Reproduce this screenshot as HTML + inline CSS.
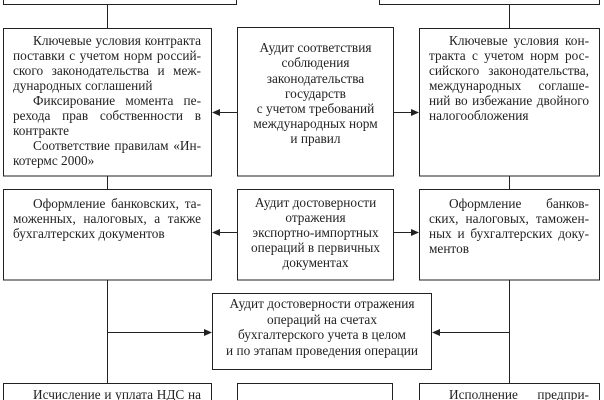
<!DOCTYPE html>
<html>
<head>
<meta charset="utf-8">
<style>
  html, body { margin: 0; padding: 0; background: #fff; }
  #c { position: relative; width: 604px; height: 400px; overflow: hidden; background: #fff; }
  svg { position: absolute; left: 0; top: 0; }
  .t { position: absolute; font-family: "Liberation Serif", "DejaVu Serif", serif; font-size: 13.3px; line-height: 15px; color: #222; white-space: nowrap; }
  .j { text-align: justify; text-align-last: justify; white-space: normal; }
  .c { text-align: center; }
</style>
</head>
<body>
<div id="c">
<svg width="604" height="400" viewBox="0 0 604 400">
  <g fill="none" stroke="#222" stroke-width="1">
    <!-- top boxes (cut) -->
    <rect x="3.5" y="-10.5" width="233" height="15"/>
    <rect x="379.5" y="-10.5" width="220" height="15"/>
    <line x1="107.5" y1="4.5" x2="107.5" y2="28.5"/>
    <line x1="509.5" y1="4.5" x2="509.5" y2="28.5"/>
    <!-- row 1 -->
    <rect x="3.5" y="28.5" width="208" height="147.5"/>
    <rect x="237.5" y="27.5" width="156" height="148.5"/>
    <rect x="419.5" y="28.5" width="180" height="147.5"/>
    <line x1="237.5" y1="112.5" x2="219" y2="112.5"/>
    <line x1="393.5" y1="112.5" x2="412" y2="112.5"/>
    <line x1="107.5" y1="176" x2="107.5" y2="189.5"/>
    <line x1="509.5" y1="176" x2="509.5" y2="189.5"/>
    <!-- row 2 -->
    <rect x="3.5" y="189.5" width="208" height="90.5"/>
    <rect x="237.5" y="189.5" width="156" height="90.5"/>
    <rect x="419.5" y="189.5" width="180" height="90.5"/>
    <line x1="237.5" y1="232.5" x2="219" y2="232.5"/>
    <line x1="393.5" y1="232.5" x2="412" y2="232.5"/>
    <!-- verticals to bottom -->
    <line x1="107.5" y1="280" x2="107.5" y2="383.5"/>
    <line x1="509.5" y1="280" x2="509.5" y2="383.5"/>
    <line x1="107.5" y1="332.5" x2="205" y2="332.5"/>
    <line x1="509.5" y1="332.5" x2="439" y2="332.5"/>
    <!-- center box 3 -->
    <rect x="212.5" y="293.5" width="219" height="76"/>
    <!-- bottom row -->
    <rect x="3.5" y="383.5" width="208" height="30"/>
    <rect x="237.5" y="383.5" width="155" height="30"/>
    <rect x="419.5" y="383.5" width="180" height="30"/>
  </g>
  <g fill="#222">
    <polygon points="212,112.5 220,109 220,116"/>
    <polygon points="419,112.5 411,109 411,116"/>
    <polygon points="212,232.5 220,229 220,236"/>
    <polygon points="419,232.5 411,229 411,236"/>
    <polygon points="212,332.5 204,329 204,336"/>
    <polygon points="432,332.5 440,329 440,336"/>
  </g>
</svg>

<!-- Left box 1 -->
<div class="t j" style="left:33px; top:33px; width:168px;">Ключевые условия контракта</div>
<div class="t j" style="left:13px; top:48px; width:188px;">поставки с учетом норм россий-</div>
<div class="t j" style="left:13px; top:63px; width:188px;">ского законодательства и меж-</div>
<div class="t" style="left:13px; top:78px;">дународных соглашений</div>
<div class="t j" style="left:33px; top:93px; width:168px;">Фиксирование момента пе-</div>
<div class="t j" style="left:13px; top:108px; width:188px;">рехода прав собственности в</div>
<div class="t" style="left:13px; top:123px;">контракте</div>
<div class="t j" style="left:33px; top:138px; width:168px;">Соответствие правилам «Ин-</div>
<div class="t" style="left:13px; top:153px;">котермс 2000»</div>

<!-- Center box 1 -->
<div class="t c" style="left:237px; top:40px; width:157px;">Аудит соответствия</div>
<div class="t c" style="left:237px; top:55px; width:157px;">соблюдения</div>
<div class="t c" style="left:237px; top:71px; width:157px;">законодательства</div>
<div class="t c" style="left:237px; top:86px; width:157px;">государств</div>
<div class="t c" style="left:237px; top:101px; width:157px;">с учетом требований</div>
<div class="t c" style="left:237px; top:116px; width:157px;">международных норм</div>
<div class="t c" style="left:237px; top:131px; width:157px;">и правил</div>

<!-- Right box 1 -->
<div class="t j" style="left:449px; top:33px; width:140px;">Ключевые условия кон-</div>
<div class="t j" style="left:429px; top:48px; width:160px;">тракта с учетом норм рос-</div>
<div class="t j" style="left:429px; top:63px; width:160px;">сийского законодательства,</div>
<div class="t j" style="left:429px; top:78px; width:160px;">международных соглаше-</div>
<div class="t j" style="left:429px; top:93px; width:160px;">ний во избежание двойного</div>
<div class="t" style="left:429px; top:108px;">налогообложения</div>

<!-- Left box 2 -->
<div class="t j" style="left:33px; top:196px; width:168px;">Оформление банковских, та-</div>
<div class="t j" style="left:13px; top:211px; width:188px;">моженных, налоговых, а также</div>
<div class="t" style="left:13px; top:226px;">бухгалтерских документов</div>

<!-- Center box 2 -->
<div class="t c" style="left:237px; top:195px; width:157px;">Аудит достоверности</div>
<div class="t c" style="left:237px; top:210px; width:157px;">отражения</div>
<div class="t c" style="left:237px; top:225px; width:157px;">экспортно-импортных</div>
<div class="t c" style="left:237px; top:240px; width:157px;">операций в первичных</div>
<div class="t c" style="left:237px; top:255px; width:157px;">документах</div>

<!-- Right box 2 -->
<div class="t j" style="left:449px; top:196px; width:140px;">Оформление банков-</div>
<div class="t j" style="left:429px; top:211px; width:160px;">ских, налоговых, таможен-</div>
<div class="t j" style="left:429px; top:226px; width:160px;">ных и бухгалтерских доку-</div>
<div class="t" style="left:429px; top:241px;">ментов</div>

<!-- Center box 3 -->
<div class="t c" style="left:212px; top:296px; width:220px;">Аудит достоверности отражения</div>
<div class="t c" style="left:212px; top:311.5px; width:220px;">операций на счетах</div>
<div class="t c" style="left:212px; top:327px; width:220px;">бухгалтерского учета в целом</div>
<div class="t c" style="left:212px; top:342.5px; width:220px;">и по этапам проведения операции</div>

<!-- Bottom row -->
<div class="t j" style="left:33px; top:387px; width:168px;">Исчисление и уплата НДС на</div>
<div class="t j" style="left:449px; top:387px; width:140px;">Исполнение предпри-</div>
</div>
</body>
</html>
